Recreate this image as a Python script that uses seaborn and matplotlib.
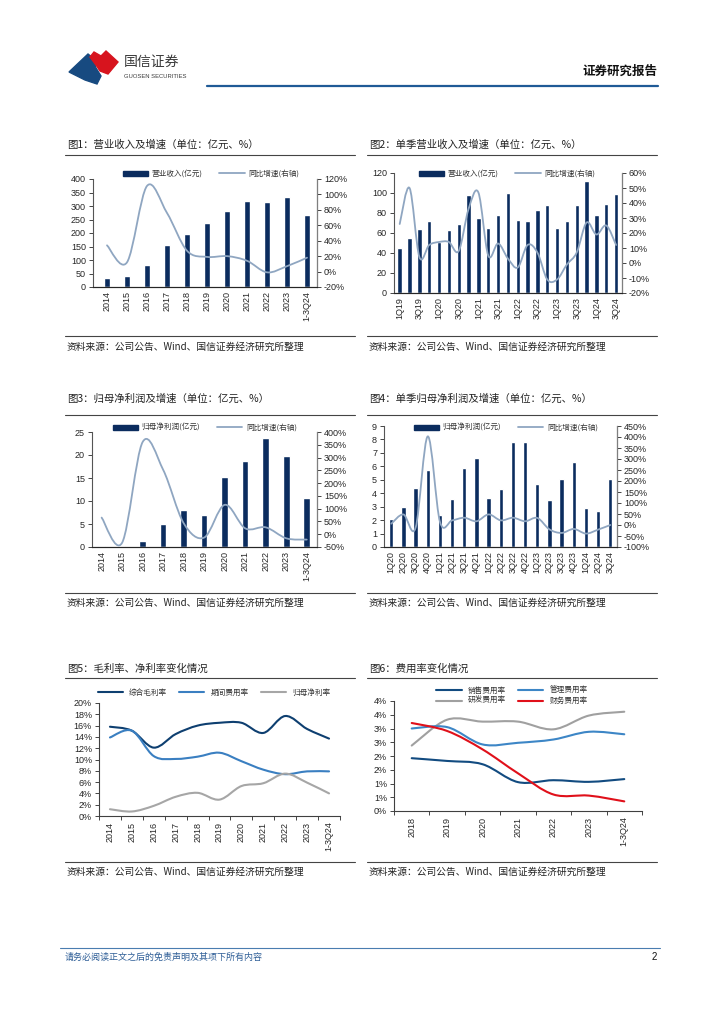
import numpy as np
import matplotlib
matplotlib.use('Agg')
import matplotlib.pyplot as plt
import seaborn as sns
from matplotlib.path import Path
from matplotlib.patches import PathPatch, Patch, Polygon
from matplotlib.lines import Line2D

# =============================================================================
# Data
# =============================================================================

years = ['2014', '2015', '2016', '2017', '2018', '2019', '2020', '2021', '2022', '2023', '1-3Q24']

# fig 1: revenue (100m yuan) and yoy growth (%)
revenue = [35, 40, 82, 155, 197, 236, 280, 318, 313, 335, 265]
revenue_yoy = [34, 12, 111, 76, 27, 19, 20, 14, -1, 7, 18]

# fig 2: quarterly revenue and yoy growth
quarters_rev = ['1Q19', '2Q19', '3Q19', '4Q19', '1Q20', '2Q20', '3Q20', '4Q20',
                '1Q21', '2Q21', '3Q21', '4Q21', '1Q22', '2Q22', '3Q22', '4Q22',
                '1Q23', '2Q23', '3Q23', '4Q23', '1Q24', '2Q24', '3Q24']
q_revenue = [45, 55, 64, 72, 51, 63, 69, 98, 75, 65, 78, 100,
             73, 72, 83, 88, 65, 72, 88, 112, 78, 89, 99]
q_revenue_yoy = [26, 50, 4, 12, 14, 14, 8, 36, 47, 5, 13, 3,
                 -3, 12, 7, -11, -11, -1, 7, 27, 19, 25, 12]

# fig 3: net profit attributable to parent and yoy growth
profit = [0.2, 0.2, 1.3, 5.1, 8.1, 7.0, 15.3, 18.7, 23.7, 19.8, 10.7]
profit_yoy = [65, -33, 361, 252, 43, -13, 115, 23, 27, -16, -21]

# fig 4: quarterly net profit and yoy growth
quarters_np = ['1Q20', '2Q20', '3Q20', '4Q20', '1Q21', '2Q21', '3Q21', '4Q21',
               '1Q22', '2Q22', '3Q22', '4Q22', '1Q23', '2Q23', '3Q23', '4Q23',
               '1Q24', '2Q24', '3Q24']
q_profit = [2.06, 3.0, 4.4, 5.7, 2.4, 3.6, 5.88, 6.6, 3.65, 4.29, 7.79, 7.79,
            4.69, 3.5, 5.06, 6.3, 2.88, 2.68, 5.06]
q_profit_yoy = [6, 48, -12, 403, 14, 21, 33, 17, 48, 21, 33, 17,
                32, -20, -36, -18, -39, -21, 0]

# fig 5: margins (%)
gross_margin = [15.8, 15.1, 12.1, 14.5, 16.0, 16.5, 16.5, 14.7, 17.7, 15.4, 13.7]
expense_ratio = [13.9, 15.1, 10.6, 10.1, 10.5, 11.2, 9.7, 8.2, 7.4, 7.9, 7.9]
net_margin = [1.2, 0.8, 1.8, 3.4, 4.1, 2.9, 5.3, 5.8, 7.5, 5.9, 4.0]

# fig 6: expense ratios (%)
years6 = ['2018', '2019', '2020', '2021', '2022', '2023', '1-3Q24']
selling_ratio = [1.92, 1.82, 1.70, 1.05, 1.12, 1.06, 1.16]
admin_ratio = [3.00, 3.05, 2.42, 2.48, 2.60, 2.88, 2.79]
rnd_ratio = [2.38, 3.32, 3.25, 3.25, 2.97, 3.47, 3.61]
finance_ratio = [3.20, 2.91, 2.24, 1.37, 0.60, 0.56, 0.35]
fig6_ticks = [0, 0.5, 1.0, 1.5, 2.0, 2.5, 3.0, 3.5, 4.0]
fig6_ticklabels = ['0%', '1%', '1%', '2%', '2%', '3%', '3%', '4%', '4%']

# =============================================================================
# Styling
# =============================================================================

sns.set_theme(style='ticks')
plt.rcParams['font.family'] = ['Liberation Sans', 'Noto Sans CJK SC', 'DejaVu Sans']
plt.rcParams['axes.linewidth'] = 0.8

CJK = ['Noto Sans CJK SC', 'DejaVu Sans']
NAVY = '#0b2c5e'
LIGHT = '#8fa6c1'
W, H = 724, 1024

fig = plt.figure(figsize=(7.24, 10.24), dpi=100)


def fx(x):
    return x / W


def fy(y):
    return 1 - y / H


def box(x0, y0, x1, y1):
    return [fx(x0), fy(y1), (x1 - x0) / W, (y1 - y0) / H]


def hline(x0, x1, y, color, lw):
    fig.add_artist(Line2D([fx(x0), fx(x1)], [fy(y), fy(y)], color=color, lw=lw,
                          transform=fig.transFigure))


def smooth(ax, ys, color, lw):
    # excel style smoothed line through the data points
    xs = list(range(len(ys)))
    n = len(ys)
    verts = [(xs[0], ys[0])]
    codes = [Path.MOVETO]
    for i in range(n - 1):
        x0, y0 = (xs[i - 1], ys[i - 1]) if i > 0 else (xs[i], ys[i])
        x3, y3 = (xs[i + 2], ys[i + 2]) if i + 2 < n else (xs[i + 1], ys[i + 1])
        x1, y1 = xs[i], ys[i]
        x2, y2 = xs[i + 1], ys[i + 1]
        verts += [(x1 + (x2 - x0) / 6, y1 + (y2 - y0) / 6),
                  (x2 - (x3 - x1) / 6, y2 - (y3 - y1) / 6),
                  (x2, y2)]
        codes += [Path.CURVE4] * 3
    ax.add_patch(PathPatch(Path(verts, codes), fill=False, edgecolor=color, lw=lw,
                           capstyle='round', joinstyle='round', zorder=3))


def frame(x0, x1, title, y_title, y_under, y_src_line, y_src):
    fig.text(fx(x0 + 2), fy(y_title), title, family=CJK, fontsize=7.5,
             va='center', ha='left', color='#222222')
    hline(x0, x1, y_under, '#444444', 0.8)
    hline(x0, x1, y_src_line, '#444444', 0.8)
    fig.text(fx(x0 + 2), fy(y_src), '资料来源：公司公告、Wind、国信证券经济研究所整理',
             family=CJK, fontsize=7, va='center', ha='left', color='#222222')


def bar_line_chart(rect, cats, bars, growth, xlim, ylim, yticks, y2lim, y2ticks,
                   bar_w, bar_label, leg_xy, label_step=1):
    ax = fig.add_axes(rect)
    sns.barplot(x=cats, y=bars, color=NAVY, saturation=1, width=bar_w, ax=ax, zorder=2)
    ax.set_xlabel('')
    ax.set_ylabel('')
    ax.set_xlim(*xlim)
    ax.set_ylim(*ylim)
    ax.set_yticks(yticks)
    ax.set_xticks(range(0, len(cats), label_step))
    ax.set_xticklabels(cats[::label_step], rotation=90, fontsize=6.5)
    ax.tick_params(axis='x', length=0, pad=3)
    ax.tick_params(axis='y', length=3, width=0.6, labelsize=6.5, pad=2)
    ax.spines['top'].set_visible(False)
    ax.spines['left'].set_color('#555555')
    ax.spines['bottom'].set_color('#404040')

    ax2 = ax.twinx()
    smooth(ax2, growth, LIGHT, 1.3)
    ax2.set_xlim(*xlim)
    ax2.set_ylim(*y2lim)
    ax2.set_yticks(y2ticks)
    ax2.set_yticklabels([f'{int(t)}%' for t in y2ticks])
    ax2.tick_params(axis='y', length=3, width=0.6, labelsize=6.5, pad=2)
    ax2.spines['top'].set_visible(False)
    ax2.spines['right'].set_color('#7f7f7f')
    ax2.spines['left'].set_visible(False)

    handles = [Patch(color=NAVY), Line2D([], [], color=LIGHT, lw=1.3)]
    leg = ax2.legend(handles, [bar_label, '同比增速(右轴)'], loc='center',
                     bbox_to_anchor=(fx(leg_xy[0]), fy(leg_xy[1])),
                     bbox_transform=fig.transFigure, ncol=2, frameon=False,
                     handlelength=3.3, handletextpad=0.5, columnspacing=2.2,
                     prop={'family': CJK, 'size': 5.5})
    for t in leg.get_texts():
        t.set_color('#333333')
    return ax, ax2


# =============================================================================
# Page header and footer
# =============================================================================

fig.add_artist(Polygon([(fx(69), fy(72)), (fx(88), fy(54)), (fx(93), fy(58)), (fx(96), fy(68)),
                        (fx(101), fy(76)), (fx(97), fy(84)), (fx(85), fy(80))],
                       closed=True, color='#174a80', transform=fig.transFigure))
fig.add_artist(Polygon([(fx(90), fy(57)), (fx(94), fy(52)), (fx(101), fy(56)), (fx(106), fy(51)),
                        (fx(118), fy(62)), (fx(108), fy(74)), (fx(100), fy(71)), (fx(96), fy(65))],
                       closed=True, color='#d7141e', transform=fig.transFigure))
fig.text(fx(124), fy(62), '国信证券', family=CJK, fontsize=10, color='#3a3a3a',
         va='center', ha='left')
fig.text(fx(124), fy(77), 'GUOSEN SECURITIES', fontsize=4.2, color='#3a3a3a',
         va='center', ha='left')
fig.text(fx(657), fy(71), '证券研究报告', family=CJK, fontsize=9, weight='bold',
         color='#111111', va='center', ha='right')
hline(207, 658, 86, '#1f5a96', 1.6)

hline(60, 660, 948, '#4a7db0', 0.8)
fig.text(fx(65), fy(957), '请务必阅读正文之后的免责声明及其项下所有内容', family=CJK,
         fontsize=6.5, style='italic', color='#2e5e97', va='center', ha='left')
fig.text(fx(657), fy(957), '2', fontsize=7, color='#111111', va='center', ha='right')

# =============================================================================
# Chart frames (titles, rules, sources)
# =============================================================================

frame(65, 355, '图1：营业收入及增速（单位：亿元、%）', 145, 155, 336, 347)
frame(367, 657, '图2：单季营业收入及增速（单位：亿元、%）', 145, 155, 336, 347)
frame(65, 355, '图3：归母净利润及增速（单位：亿元、%）', 399, 415, 593, 603)
frame(367, 657, '图4：单季归母净利润及增速（单位：亿元、%）', 399, 415, 593, 603)
frame(65, 355, '图5：毛利率、净利率变化情况', 669, 678, 862, 872)
frame(367, 657, '图6：费用率变化情况', 669, 678, 862, 872)

# =============================================================================
# Bar + line charts
# =============================================================================

bar_line_chart(box(93, 179, 317, 287), years, revenue, revenue_yoy,
               (-0.7, 10.5), (0, 400), range(0, 401, 50),
               (-20, 120), range(-20, 121, 20), 0.34, '营业收入(亿元)', (211, 174))

bar_line_chart(box(394, 173, 622, 293), quarters_rev, q_revenue, q_revenue_yoy,
               (-0.58, 22.6), (0, 120), range(0, 121, 20),
               (-20, 60), range(-20, 61, 10), 0.45, '营业收入(亿元)', (507, 174),
               label_step=2)

bar_line_chart(box(92, 432, 317, 547), years, profit, profit_yoy,
               (-0.47, 10.5), (0, 25), range(0, 26, 5),
               (-50, 400), range(-50, 401, 50), 0.32, '归母净利润(亿元)', (205, 428))

bar_line_chart(box(384, 426, 617, 547), quarters_np, q_profit, q_profit_yoy,
               (-0.6, 18.55), (0, 9), range(0, 10, 1),
               (-100, 450), range(-100, 451, 50), 0.36, '归母净利润(亿元)', (506, 428))

# =============================================================================
# Line charts
# =============================================================================


def line_chart(rect, cats, series, colors, labels, ylim, yticks, yticklabels, leg_xy, ncol):
    ax = fig.add_axes(rect)
    for s, c in zip(series, colors):
        smooth(ax, s, c, 1.5)
    n = len(cats)
    ax.set_xlim(-0.5, n - 0.5)
    ax.set_ylim(*ylim)
    ax.set_xticks(range(n))
    ax.set_xticklabels(cats, rotation=90, fontsize=6.5)
    ax.set_xticks(np.arange(-0.5, n, 1), minor=True)
    ax.tick_params(axis='x', which='major', length=0, pad=4)
    ax.tick_params(axis='x', which='minor', length=3, width=0.6)
    ax.set_yticks(yticks)
    ax.set_yticklabels(yticklabels)
    ax.tick_params(axis='y', length=3, width=0.6, labelsize=6.5, pad=2)
    sns.despine(ax=ax)
    ax.spines['left'].set_color('#404040')
    ax.spines['bottom'].set_color('#404040')
    handles = [Line2D([], [], color=c, lw=1.5) for c in colors]
    leg = ax.legend(handles, labels, loc='center',
                    bbox_to_anchor=(fx(leg_xy[0]), fy(leg_xy[1])),
                    bbox_transform=fig.transFigure, ncol=ncol, frameon=False,
                    handlelength=3.3, handletextpad=0.8, columnspacing=1.6,
                    labelspacing=0.35, prop={'family': CJK, 'size': 5.5})
    for t in leg.get_texts():
        t.set_color('#333333')
    return ax


line_chart(box(99, 703, 340, 816), years,
           [gross_margin, expense_ratio, net_margin],
           ['#0e3f70', '#3a7fc1', '#a6a6a6'],
           ['综合毛利率', '期间费用率', '归母净利率'],
           (0, 20), range(0, 21, 2), [f'{t}%' for t in range(0, 21, 2)],
           (214, 693), 3)

# legend fills columns first: col 1 = selling / R&D, col 2 = admin / finance
line_chart(box(394, 701, 642, 811), years6,
           [selling_ratio, rnd_ratio, admin_ratio, finance_ratio],
           ['#124b80', '#a0a0a0', '#3d86c6', '#e0101a'],
           ['销售费用率', '研发费用率', '管理费用率', '财务费用率'],
           (0, 4), fig6_ticks, fig6_ticklabels,
           (512, 696), 2)

plt.savefig('out.png', dpi=100)
